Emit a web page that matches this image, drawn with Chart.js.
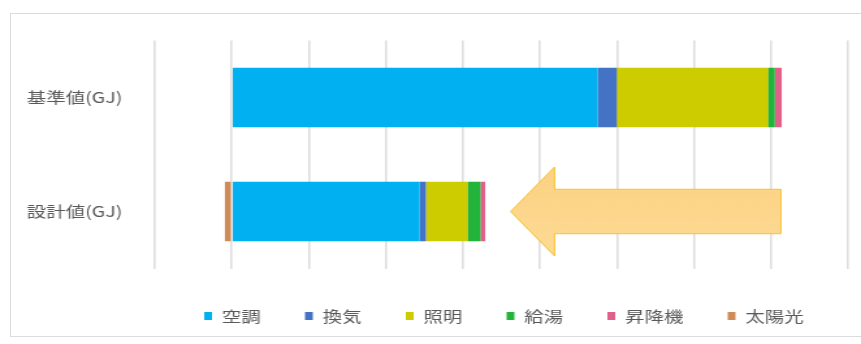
<!DOCTYPE html>
<html>
<head>
<meta charset="utf-8">
<script src="https://cdn.jsdelivr.net/npm/chart.js@4/dist/chart.umd.min.js"></script>
<style>
  html, body { margin: 0; padding: 0; background: #fff; }
  #stage { position: relative; width: 861px; height: 344px; overflow: hidden; background: #fff; }
  #frame { position: absolute; left: 10px; top: 13px; width: 880px; height: 324px;
           border: 1.5px solid #dcdcdc; box-sizing: border-box; }
  #wrap { position: absolute; left: 0; top: 0; width: 662px; height: 344px;
          transform: scaleX(1.3006); transform-origin: 0 0; }
</style>
</head>
<body>
<div id="stage">
  <div id="frame"></div>
  <div id="wrap"><canvas id="c" width="662" height="344"></canvas></div>
</div>
<script>
// Energy use by end use (GJ): reference building vs. design
const categories = ['基準値(GJ)', '設計値(GJ)'];
const seriesNames = ['空調', '換気', '照明', '給湯', '昇降機', '太陽光'];
const airConditioning = [475, 244];
const ventilation     = [25, 8];
const lighting        = [196, 54];
const hotWater        = [9, 17];
const elevator        = [9, 6];
const solar           = [0, -9];
const seriesColors = ['#00B0F0', '#4472C4', '#CCCC00', '#22B33A', '#E0608A', '#D08A55'];

// value axis range
const axisMin = -100;
const axisMax = 800;
const axisStep = 100;

const seriesValues = [airConditioning, ventilation, lighting, hotWater, elevator, solar];
const FONT = "'Noto Sans CJK JP', 'Noto Sans', sans-serif";
const TEXT = '#595959';

// Left-pointing block arrow over the design row, showing the reduction
const reductionArrow = {
  id: 'reductionArrow',
  afterDatasetsDraw(chart, args, opts) {
    const { ctx } = chart;
    const xs = chart.scales.x, ys = chart.scales.y;
    const cy = ys.getPixelForValue(opts.row);
    const band = ys.height / categories.length;
    const tip = xs.getPixelForValue(opts.to);
    const neck = xs.getPixelForValue(opts.neck);
    const tail = xs.getPixelForValue(opts.from);
    const hh = band * 0.39, sh = band * 0.195;
    ctx.save();
    ctx.beginPath();
    ctx.moveTo(tip, cy);
    ctx.lineTo(neck, cy - hh);
    ctx.lineTo(neck, cy - sh);
    ctx.lineTo(tail, cy - sh);
    ctx.lineTo(tail, cy + sh);
    ctx.lineTo(neck, cy + sh);
    ctx.lineTo(neck, cy + hh);
    ctx.closePath();
    const g = ctx.createLinearGradient(0, cy - hh, 0, cy + hh);
    g.addColorStop(0, '#FCD283');
    g.addColorStop(1, '#FDDA94');
    ctx.fillStyle = g;
    ctx.fill();
    ctx.lineWidth = 1;
    ctx.strokeStyle = '#F9C22E';
    ctx.stroke();
    ctx.restore();
  }
};

new Chart(document.getElementById('c'), {
  type: 'bar',
  data: {
    labels: categories,
    datasets: seriesNames.map((name, i) => ({
      label: name,
      data: seriesValues[i],
      backgroundColor: seriesColors[i],
      borderWidth: 0,
      barPercentage: 0.52,
      categoryPercentage: 1
    }))
  },
  options: {
    indexAxis: 'y',
    responsive: false,
    animation: false,
    devicePixelRatio: 1,
    layout: { padding: { top: 40.5, right: 10, bottom: 10.5, left: 0 } },
    scales: {
      x: {
        stacked: true,
        min: axisMin,
        max: axisMax,
        ticks: { stepSize: axisStep, display: false },
        grid: { color: '#dedede', lineWidth: 1.6, drawTicks: false },
        border: { display: false },
        afterFit(s) { s.height = 6; }
      },
      y: {
        stacked: true,
        grid: { display: false },
        border: { display: false },
        ticks: { color: TEXT, font: { family: FONT, size: 15 }, padding: 17 },
        afterFit(s) { s.width = 119; }
      }
    },
    plugins: {
      legend: {
        position: 'bottom',
        align: 'end',
        labels: {
          boxWidth: 6,
          boxHeight: 8,
          padding: 34,
          color: TEXT,
          font: { family: FONT, size: 15 }
        }
      },
      tooltip: { enabled: false },
      reductionArrow: { row: 1, from: 713, neck: 419, to: 362 }
    }
  },
  plugins: [reductionArrow]
});
</script>
</body>
</html>
